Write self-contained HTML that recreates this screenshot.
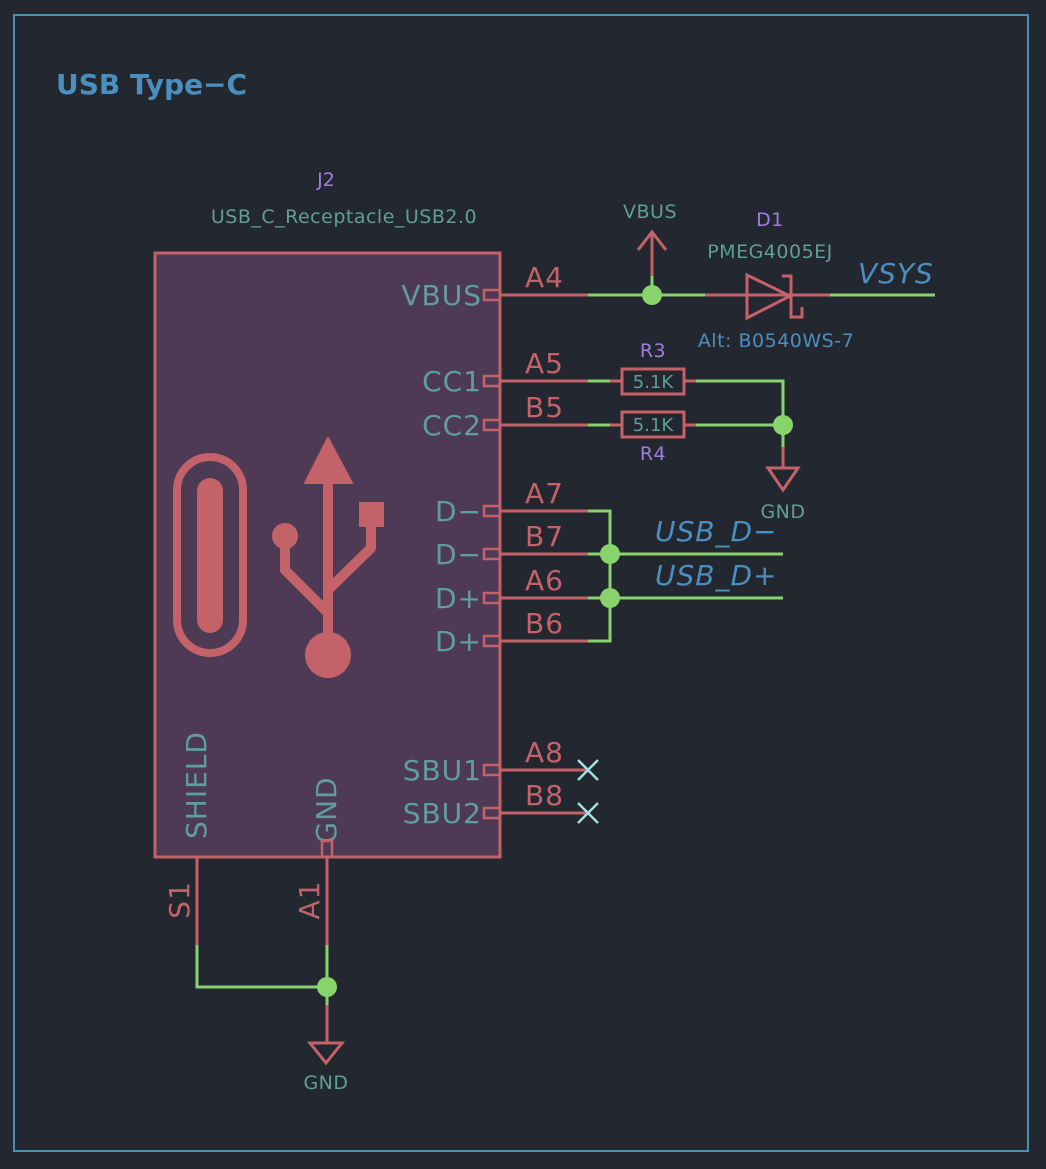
<!DOCTYPE html>
<html><head><meta charset="utf-8"><style>
html,body{margin:0;padding:0;background:#23272f;}
svg{display:block;font-family:"DejaVu Sans","Liberation Sans",sans-serif;}
</style></head><body>
<svg width="1046" height="1169" viewBox="0 0 1046 1169" xmlns="http://www.w3.org/2000/svg">
<rect x="0" y="0" width="1046" height="1169" fill="#23272f"/>
<rect x="14" y="15" width="1014" height="1136" fill="none" stroke="#4a8fb3" stroke-width="2"/>
<text x="56" y="94" font-size="28" font-weight="bold" fill="#4a8fbf">USB Type−C</text>

<text x="326" y="186" font-size="19" fill="#a07ee0" text-anchor="middle">J2</text>
<text x="344" y="223" font-size="19" fill="#5f9e9a" text-anchor="middle" letter-spacing="0.5">USB_C_Receptacle_USB2.0</text>

<rect x="155" y="253" width="345" height="604" fill="#4e3a55" stroke="#c4626a" stroke-width="3"/>

<!-- USB icon -->
<rect x="177" y="457" width="66" height="196" rx="33" fill="none" stroke="#c4626a" stroke-width="8"/>
<rect x="197" y="478" width="26" height="155" rx="13" fill="#c4626a"/>
<g stroke="#c4626a" stroke-width="10" fill="none" stroke-linejoin="round">
<line x1="328" y1="478" x2="328" y2="650"/>
<polyline points="285,536 285,570 328,613"/>
<polyline points="371,520 371,548 328,590"/>
</g>
<polygon points="305,483 352,483 328,438" fill="#c4626a" stroke="#c4626a" stroke-width="2" stroke-linejoin="round"/>
<circle cx="328" cy="655" r="23" fill="#c4626a"/>
<circle cx="285" cy="536" r="13" fill="#c4626a"/>
<rect x="359" y="502" width="25" height="25" fill="#c4626a"/>

<g font-size="28" fill="#5f9e9a" text-anchor="end" letter-spacing="1">
<text x="482" y="305">VBUS</text>
<text x="482" y="391">CC1</text>
<text x="482" y="435">CC2</text>
<text x="482" y="521">D−</text>
<text x="482" y="564">D−</text>
<text x="482" y="608">D+</text>
<text x="482" y="651">D+</text>
<text x="482" y="780">SBU1</text>
<text x="482" y="823">SBU2</text>
</g>
<text transform="translate(206,785) rotate(-90)" font-size="28" fill="#5f9e9a" text-anchor="middle" letter-spacing="1">SHIELD</text>
<text transform="translate(336,810) rotate(-90)" font-size="28" fill="#5f9e9a" text-anchor="middle" letter-spacing="1">GND</text>

<g fill="none" stroke="#c4626a" stroke-width="2.5">
<rect x="484" y="290" width="16" height="10"/>
<rect x="484" y="376" width="16" height="10"/>
<rect x="484" y="420" width="16" height="10"/>
<rect x="484" y="506" width="16" height="10"/>
<rect x="484" y="549" width="16" height="10"/>
<rect x="484" y="593" width="16" height="10"/>
<rect x="484" y="636" width="16" height="10"/>
<rect x="484" y="765" width="16" height="10"/>
<rect x="484" y="808" width="16" height="10"/>
<rect x="322" y="841" width="10" height="16"/>
</g>

<g stroke="#c4626a" stroke-width="3" fill="none">
<line x1="500" y1="295" x2="588" y2="295"/>
<line x1="500" y1="381" x2="588" y2="381"/>
<line x1="500" y1="425" x2="588" y2="425"/>
<line x1="500" y1="511" x2="588" y2="511"/>
<line x1="500" y1="554" x2="588" y2="554"/>
<line x1="500" y1="598" x2="588" y2="598"/>
<line x1="500" y1="641" x2="588" y2="641"/>
<line x1="500" y1="770" x2="588" y2="770"/>
<line x1="500" y1="813" x2="588" y2="813"/>
<line x1="197" y1="857" x2="197" y2="945"/>
<line x1="327" y1="857" x2="327" y2="945"/>
<line x1="705" y1="295" x2="830" y2="295"/>
<line x1="610" y1="381" x2="622" y2="381"/>
<line x1="684" y1="381" x2="696" y2="381"/>
<line x1="610" y1="425" x2="622" y2="425"/>
<line x1="684" y1="425" x2="696" y2="425"/>
<line x1="652" y1="276" x2="652" y2="232"/>
<polyline points="638,250 652,232 666,250"/>
<line x1="783" y1="447" x2="783" y2="468"/>
<polygon points="768,468 798,468 783,490"/>
<line x1="327" y1="1005" x2="327" y2="1043"/>
<polygon points="310,1043 342,1043 326,1063"/>
<rect x="622" y="369" width="62" height="25"/>
<rect x="622" y="412" width="62" height="25"/>
<polygon points="747,275 747,318 790,296"/>
<polyline points="782,276 791,276 791,317 802,317 802,307"/>
</g>

<g stroke="#88d36b" stroke-width="3" fill="none">
<line x1="588" y1="295" x2="705" y2="295"/>
<line x1="830" y1="295" x2="935" y2="295"/>
<line x1="652" y1="295" x2="652" y2="276"/>
<line x1="588" y1="381" x2="610" y2="381"/>
<line x1="588" y1="425" x2="610" y2="425"/>
<polyline points="696,381 783,381 783,447"/>
<line x1="696" y1="425" x2="783" y2="425"/>
<polyline points="588,511 610,511 610,641 588,641"/>
<line x1="588" y1="554" x2="783" y2="554"/>
<line x1="588" y1="598" x2="783" y2="598"/>
<polyline points="197,945 197,987 327,987"/>
<line x1="327" y1="945" x2="327" y2="1005"/>
</g>
<g fill="#88d36b">
<circle cx="652" cy="295" r="10"/>
<circle cx="783" cy="425" r="10"/>
<circle cx="610" cy="554" r="10"/>
<circle cx="610" cy="598" r="10"/>
<circle cx="327" cy="987" r="10"/>
</g>

<g stroke="#9fe0e0" stroke-width="2.5">
<line x1="578" y1="760" x2="598" y2="780"/><line x1="598" y1="760" x2="578" y2="780"/>
<line x1="578" y1="803" x2="598" y2="823"/><line x1="598" y1="803" x2="578" y2="823"/>
</g>

<g font-size="28" fill="#c4626a" letter-spacing="1">
<text x="525" y="287">A4</text>
<text x="525" y="373">A5</text>
<text x="525" y="417">B5</text>
<text x="525" y="503">A7</text>
<text x="525" y="546">B7</text>
<text x="525" y="590">A6</text>
<text x="525" y="633">B6</text>
<text x="525" y="762">A8</text>
<text x="525" y="805">B8</text>
<text transform="translate(189,900) rotate(-90)" text-anchor="middle">S1</text>
<text transform="translate(319,900) rotate(-90)" text-anchor="middle">A1</text>
</g>

<g font-size="19" text-anchor="middle" letter-spacing="0.5">
<text x="650" y="218" fill="#5f9e9a">VBUS</text>
<text x="770" y="226" fill="#a07ee0">D1</text>
<text x="770" y="258" fill="#5f9e9a">PMEG4005EJ</text>
<text x="776" y="347" fill="#4a8fbf">Alt: B0540WS-7</text>
<text x="653" y="357" fill="#a07ee0">R3</text>
<text x="653" y="460" fill="#a07ee0">R4</text>
<text x="783" y="518" fill="#5f9e9a">GND</text>
<text x="326" y="1089" fill="#5f9e9a">GND</text>
</g>
<g font-size="18" text-anchor="middle" fill="#5f9e9a">
<text x="653" y="388">5.1K</text>
<text x="653" y="431">5.1K</text>
</g>
<g font-size="28" font-style="italic" fill="#4a8fbf" letter-spacing="1">
<text x="858" y="283">VSYS</text>
<text x="655" y="541">USB_D−</text>
<text x="655" y="585">USB_D+</text>
</g>
</svg>
</body></html>
